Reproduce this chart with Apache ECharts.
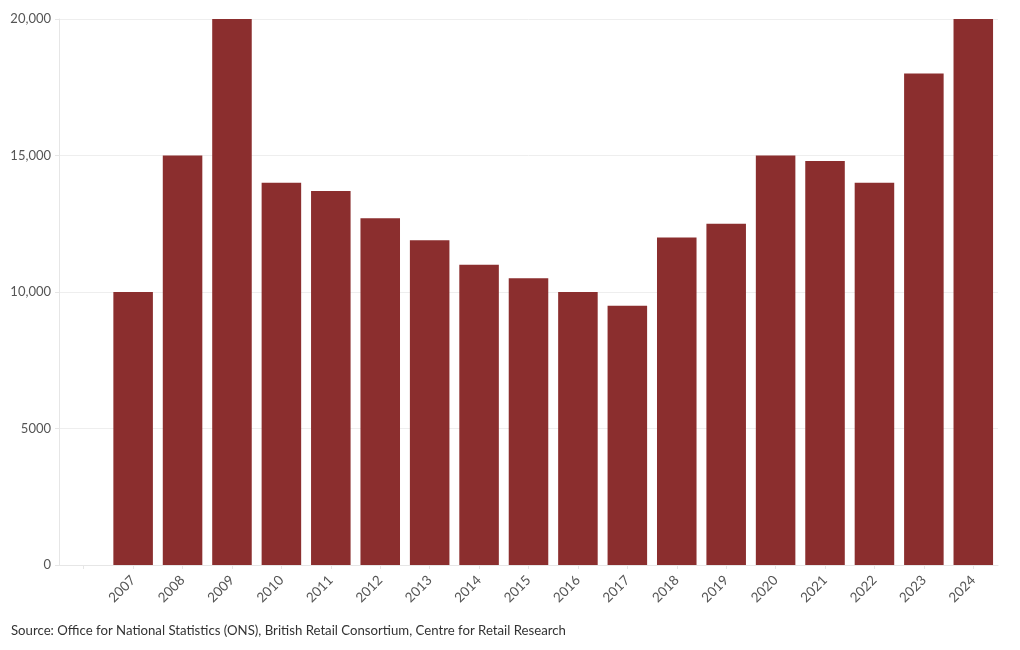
<!DOCTYPE html>
<html>
<head>
<meta charset="utf-8">
<script src="https://cdn.jsdelivr.net/npm/echarts@6/dist/echarts.min.js"></script>
<style>
html,body{margin:0;padding:0;background:#fff;}
#chart{width:1020px;height:650px;}
</style>
</head>
<body>
<div id="chart"></div>
<script>
var categories = ['', '2007', '2008', '2009', '2010', '2011', '2012', '2013', '2014', '2015', '2016', '2017', '2018', '2019', '2020', '2021', '2022', '2023', '2024'];
var values = [null, 10000, 15000, 20000, 14000, 13700, 12700, 11900, 11000, 10500, 10000, 9500, 12000, 12500, 15000, 14800, 14000, 18000, 20000];
var yTicks = [0, 5000, 10000, 15000, 20000];
var sourceText = 'Source: Office for National Statistics (ONS), British Retail Consortium, Centre for Retail Research';

var FONT = 'Lato, "Noto Sans", sans-serif';
var chart = echarts.init(document.getElementById('chart'), null, {renderer: 'canvas'});
chart.setOption({
  animation: false,
  textStyle: {fontFamily: FONT},
  grid: {left: 59, right: 22, top: 19, bottom: 85, containLabel: false},
  graphic: [{
    type: 'text', left: 11, top: 624,
    style: {text: sourceText, fontFamily: FONT, fontSize: 13.2, fill: '#333'}
  }],
  xAxis: {
    type: 'category',
    data: categories,
    axisLine: {show: true, lineStyle: {color: '#e6e6e6'}},
    axisTick: {show: true, alignWithLabel: true, length: 4, lineStyle: {color: '#e6e6e6'}},
    axisLabel: {rotate: 45, color: '#555', fontSize: 13.5, fontFamily: FONT, margin: 13, interval: 0}
  },
  yAxis: {
    type: 'value',
    min: yTicks[0], max: yTicks[yTicks.length - 1], interval: 5000,
    axisLine: {show: true, lineStyle: {color: '#e6e6e6'}},
    axisTick: {show: true, length: 4, lineStyle: {color: '#e6e6e6'}},
    splitLine: {show: true, lineStyle: {color: '#eeeeee'}},
    axisLabel: {
      color: '#555', fontSize: 13, fontFamily: FONT, margin: 8,
      formatter: function (v) { return v >= 10000 ? v.toLocaleString('en-US') : String(v); }
    }
  },
  series: [{
    type: 'bar',
    data: values,
    barCategoryGap: '20%',
    itemStyle: {color: '#8b2e2e'}
  }]
});
</script>
</body>
</html>
